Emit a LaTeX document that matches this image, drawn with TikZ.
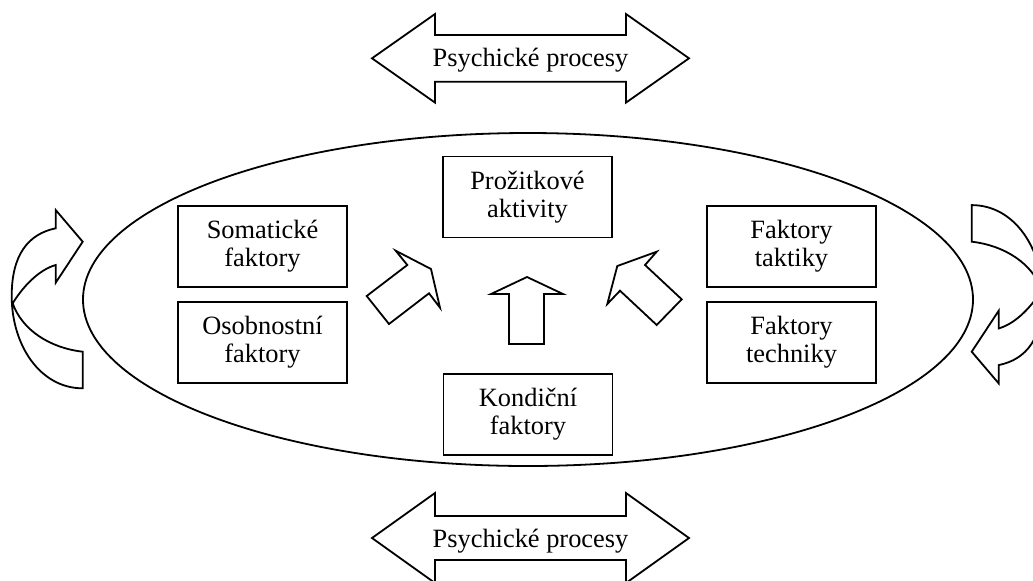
\documentclass[tikz,border=0pt]{standalone}
\usepackage{fontspec}
\setmainfont{Liberation Serif}
\begin{document}
\begin{tikzpicture}[x=0.5pt,y=-0.5pt,
  outline/.style={draw=black,line width=0.9pt,line join=miter},
  txt/.style={font=\fontsize{13.2}{14}\selectfont},
  factor/.style={txt,draw=black,line width=0.9pt,minimum width=84.5pt,
    minimum height=40.5pt,align=center,inner sep=0pt},
  label/.style={txt,inner sep=0pt,anchor=base},
  curvedarrow/.pic={
    \draw[outline,fill=white]
      (55.7,228.3) .. controls (28,234) and (11.7,255) .. (11.7,296)
      .. controls (11.7,345) and (40,388.3) .. (82.7,388.3)
      -- (82.7,351.7)
      .. controls (50,348) and (22,330) .. (12.7,303.3)
      .. controls (22,288) and (38,270) .. (55.7,265)
      -- (55.7,282.7) -- (82.7,241.7) -- (55.7,210) -- cycle;
  }]
\useasboundingbox (0,0) rectangle (1033,580);
\clip (0,0) rectangle (1033,580);

% double arrows with the psychological processes
\draw[outline] (372,58.3) -- (435,14) -- (435,35) -- (626,35) -- (626,14)
  -- (689,58.3) -- (626,102.6) -- (626,81.7) -- (435,81.7) -- (435,102.6) -- cycle;
\node[label] (psyTop) at (530.5,66.5) {Psychické procesy};

\draw[outline] (372,538) -- (435,493) -- (435,516) -- (626,516) -- (626,493)
  -- (689,538) -- (626,583) -- (626,560) -- (435,560) -- (435,583) -- cycle;
\node[label] (psyBot) at (530.5,547) {Psychické procesy};

% central ellipse
\draw[outline] (528,299.5) ellipse [x radius=222.5pt, y radius=83.25pt];

% circular arrows on both sides
\pic at (0,0) {curvedarrow};
\pic[rotate=180] at (1054.4,593.4) {curvedarrow};

% factor boxes
\node[factor] (soma)   at (262.5,246.5) {Somatické\\faktory};
\node[factor] (osob)   at (262.5,342.5) {Osobnostní\\faktory};
\node[factor] (takt)   at (791.5,246.5) {Faktory\\taktiky};
\node[factor] (tech)   at (791.5,342.5) {Faktory\\techniky};
\node[factor] (prozit) at (527.5,197)   {Prožitkové\\aktivity};
\node[factor] (kond)   at (528,414.5)   {Kondiční\\faktory};

% block arrows pointing at the experience activities
\draw[outline] (395.7,250.7) -- (431,269) -- (440,307.7) -- (429,293.3)
  -- (389,324) -- (366.7,296) -- (407.3,265) -- cycle;
\draw[outline] (527,277) -- (563,294) -- (544,294) -- (544,344) -- (509,344)
  -- (509,294) -- (491,294) -- cycle;
\draw[outline] (656.7,251.7) -- (645,265) -- (681.7,299.3) -- (656.7,325)
  -- (620,290.7) -- (607.3,304) -- (617.3,266) -- cycle;
\end{tikzpicture}
\end{document}
